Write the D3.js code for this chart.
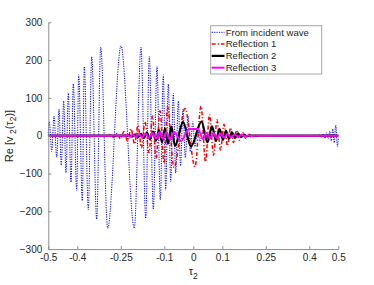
<!DOCTYPE html>
<html><head><meta charset="utf-8">
<script src="https://cdn.jsdelivr.net/npm/d3@7"></script>
<style>
html,body{margin:0;padding:0;background:#fff;}
svg{display:block;font-family:"Liberation Sans",Arial,sans-serif;}
</style></head>
<body><svg id="c" width="374" height="285"></svg>
<script>
// ---- data (t, Re value) read at the extrema of each curve ----
const seriesNames = ["From incident wave","Reflection 1","Reflection 2","Reflection 3"];
const xTicks = [-0.5,-0.4,-0.25,-0.1,0,0.1,0.25,0.4,0.5];
const xTickLabels = ["-0.5","-0.4","-0.25","-0.1","0","0.1","0.25","0.4","0.5"];
const yTicks = [-300,-200,-100,0,100,200,300];

const incident = [
 [-0.5,0],[-0.4966,37],[-0.4883,-42],[-0.4803,52],[-0.4710,-57],[-0.4631,70],[-0.4552,-78],
 [-0.4469,92],[-0.4390,-98],[-0.4310,112],[-0.4217,-123],[-0.4138,137],[-0.4021,-145],
 [-0.3952,161],[-0.3828,-172],[-0.3759,183],[-0.3621,-195],[-0.3503,209],[-0.3331,-221],
 [-0.3193,234],[-0.2952,-245],[-0.2493,238],[-0.2034,-245],[-0.1803,234],[-0.1641,-219],
 [-0.1517,209],[-0.1379,-195],[-0.1252,183],[-0.1138,-170],[-0.1034,161],[-0.0952,-144],
 [-0.0862,137],[-0.0779,-122],[-0.0690,112],[-0.0607,-99],[-0.0517,92],[-0.0441,-80],
 [-0.0355,70],[-0.0276,-58],[-0.0183,52],[-0.0103,-42],[-0.0021,37],[0.0059,-29],
 [0.0145,22],[0.0231,-15],[0.0317,9],[0.0403,-5],[0.0490,2],[0.0576,0],
 [0.4093,0],[0.4179,1],[0.4266,-2],[0.4345,3],[0.4414,-4],[0.4479,5],[0.4541,-7],
 [0.4600,8],[0.4655,-9],[0.4707,12],[0.4759,-14],[0.4810,18],[0.4859,-19],[0.4910,28],
 [0.4972,-29],[0.5,-5]
];
const reflection1 = [
 [-0.5,0],[-0.3045,0],[-0.2872,3],[-0.2752,-4],[-0.2631,6],[-0.2510,-8],[-0.2390,11],
 [-0.2269,-14],[-0.2148,18],[-0.2028,-22],[-0.1907,27],[-0.1786,-32],[-0.1666,37],
 [-0.1528,-45],[-0.1407,52],[-0.1286,-60],[-0.1148,66],[-0.1010,-73],[-0.0890,77],
 [-0.0666,-84],[-0.0286,72],[0.0059,-82],[0.0266,78],[0.0421,-69],[0.0559,56],
 [0.0697,-52],[0.0817,42],[0.0938,-38],[0.1059,30],[0.1179,-27],[0.1283,21],
 [0.1386,-18],[0.1490,14],[0.1593,-12],[0.1697,9],[0.1800,-7],[0.1903,5],[0.2007,-4],
 [0.2110,2.5],[0.2214,-1.5],[0.2317,0],[0.5,0]
];
const reflection2 = [
 [-0.5,0],[-0.2321,0],[-0.2217,1.5],[-0.2114,-2],[-0.2010,3],[-0.1907,-4],[-0.1803,5],
 [-0.1700,-6],[-0.1597,7.5],[-0.1493,-9],[-0.1390,11],[-0.1286,-13],[-0.1183,15],
 [-0.1079,-17],[-0.0976,19],[-0.0872,-21],[-0.0752,24],[-0.0631,-27],[-0.0355,36],
 [-0.0079,-28],[0.0283,37],[0.0490,-17],[0.0645,25],[0.0783,-14],[0.0903,18],
 [0.1024,-11],[0.1128,13],[0.1231,-8],[0.1334,9],[0.1438,-6],[0.1541,6],[0.1645,-4],
 [0.1748,3],[0.1852,-2],[0.1955,1],[0.2059,0],[0.5,0]
];
const reflection3 = [
 [-0.5,0],[-0.2803,0],[-0.2700,1],[-0.2597,-1],[-0.2493,1.5],[-0.2390,-2],[-0.2286,2.5],
 [-0.2183,-3],[-0.2079,3.5],[-0.1976,-4],[-0.1872,4.5],[-0.1769,-5],[-0.1648,6],
 [-0.1528,-6.5],[-0.1407,7],[-0.1286,-8],[-0.1166,9],[-0.1045,-9],[-0.0924,10],
 [-0.0803,-11],[-0.0666,10],[-0.0424,-14],[-0.0148,18],[0.0162,18],[0.0334,-9],
 [0.0455,8],[0.0576,-8],[0.0697,7],[0.0817,-7],[0.0938,6],[0.1059,-5],[0.1179,4.5],
 [0.1300,-4],[0.1421,3.5],[0.1541,-3],[0.1662,2.5],[0.1783,-2],[0.1903,1.5],
 [0.2024,-1],[0.2145,0.5],[0.2266,0],[0.5,0]
];

// ---- drawing ----
const svg = d3.select("#c");
const x = d3.scaleLinear().domain([-0.5,0.5]).range([48.3,338.3]);
const y = d3.scaleLinear().domain([-300,300]).range([249.1,22.3]);
const axisCol = "#8c8c8c", textCol = "#262626";

const series = [
 {data:incident, color:"#0000ff", w:1, dash:"1.2,1.2"},
 {data:reflection1, color:"#ff0000", w:1.5, dash:"4,2,1.2,2"},
 {data:reflection2, color:"#000000", w:2.2, dash:null},
 {data:reflection3, color:"#ff00ff", w:2, dash:null}
];
const line = d3.line().x(d=>x(d[0])).y(d=>y(d[1])).curve(d3.curveMonotoneX);

const plot = svg.append("g");
series.forEach(s=>{
  plot.append("path").attr("d", line(s.data)).attr("fill","none")
    .attr("stroke", s.color).attr("stroke-width", s.w)
    .attr("stroke-dasharray", s.dash).attr("stroke-linejoin","round");
});

// axes
const xAxis = d3.axisBottom(x).tickValues(xTicks).tickFormat((d,i)=>xTickLabels[i])
  .tickSizeInner(-3).tickSizeOuter(0).tickPadding(5);
const yAxis = d3.axisLeft(y).tickValues(yTicks).tickFormat(d3.format("d"))
  .tickSizeInner(-3).tickSizeOuter(0).tickPadding(6);
const gx = svg.append("g").attr("transform","translate(0,249.1)").call(xAxis);
const gy = svg.append("g").attr("transform","translate(48.3,0)").call(yAxis);
[gx,gy].forEach(g=>{
  g.select(".domain").attr("stroke",axisCol);
  g.selectAll(".tick line").attr("stroke",axisCol);
  g.selectAll(".tick text").attr("fill",textCol).attr("font-size",10)
    .attr("font-family","'Liberation Sans',Arial,sans-serif");
});

// axis labels
const xl = svg.append("text").attr("x",193.3).attr("y",275).attr("text-anchor","middle")
  .attr("fill",textCol).attr("font-size",11);
xl.append("tspan").text("τ");
xl.append("tspan").attr("dy",3.5).attr("font-size",8.5).text("2");

const yl = svg.append("text").attr("transform","translate(12.5,136) rotate(-90)")
  .attr("text-anchor","middle").attr("fill",textCol).attr("font-size",11);
yl.append("tspan").text("Re [v");
yl.append("tspan").attr("dy",3.5).attr("font-size",8.5).text(" 2");
yl.append("tspan").attr("dy",-3.5).text("(τ");
yl.append("tspan").attr("dy",3.5).attr("font-size",8.5).text("2");
yl.append("tspan").attr("dy",-3.5).text(")]");

// legend
const lg = svg.append("g");
lg.append("rect").attr("x",210.7).attr("y",25.7).attr("width",111).attr("height",48.3)
  .attr("fill","#fff").attr("stroke","#a6a6a6").attr("stroke-width",1);
const rowY = [32.3,44.1,55.9,67.7];
series.forEach((s,i)=>{
  lg.append("line").attr("x1",211.7).attr("x2",224.5).attr("y1",rowY[i]).attr("y2",rowY[i])
    .attr("stroke",s.color).attr("stroke-width",s.w).attr("stroke-dasharray",s.dash);
  lg.append("text").attr("x",225.7).attr("y",rowY[i]).attr("dy","0.35em")
    .attr("font-size",9.6).attr("fill",textCol).text(seriesNames[i]);
});
</script></body></html>
